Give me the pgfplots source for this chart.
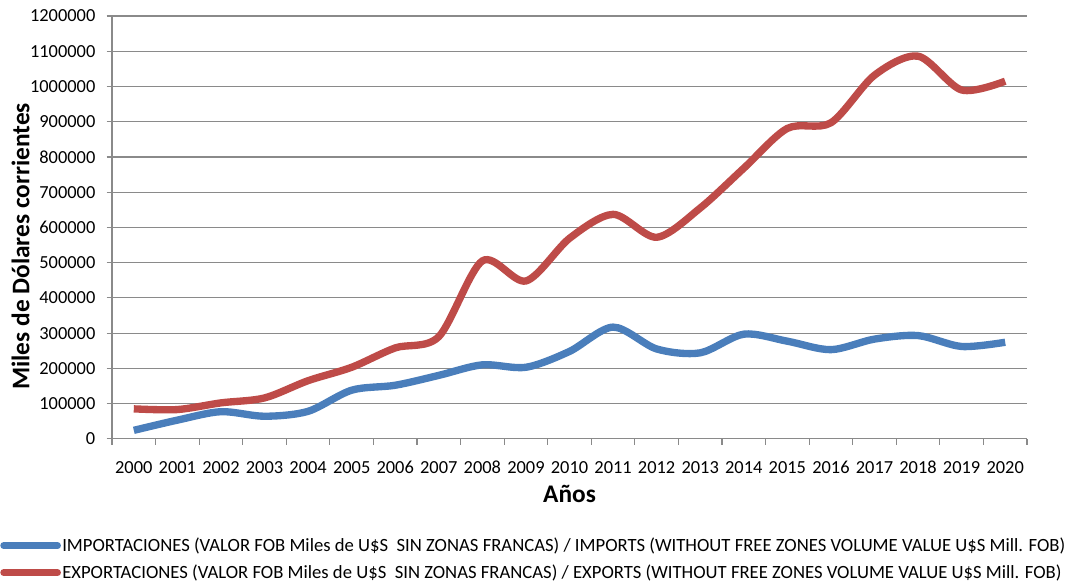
\documentclass[border=0pt]{standalone}
\usepackage{fontspec}
\setmainfont{Carlito}
\usepackage{pgfplots}
\pgfplotsset{compat=1.18}
\definecolor{impblue}{HTML}{4A7EBB}
\definecolor{expred}{HTML}{BE4B48}
\definecolor{gridgray}{HTML}{8A8A8A}

% values (miles de U$S)
\pgfplotstableread{
x  imp     exp
0  24000   85000
1  53000   83000
2  77000   102000
3  64000   116000
4  78000   165000
5  138000  203000
6  152000  258000
7  180000  290000
8  210000  505000
9  203000  448000
10 248000  569000
11 317000  637000
12 255000  572000
13 244000  655000
14 297000  768000
15 277000  881000
16 253000  897000
17 283000  1032000
18 293000  1086000
19 262000  990000
20 274000  1015000
}\datatable

\begin{document}
\begin{tikzpicture}
\begin{axis}[
  name=ax,
  width=686pt, height=317pt, scale only axis,
  xmin=-0.5, xmax=20.5, ymin=0, ymax=1200000,
  xtick={0,...,20},
  xticklabels={2000,2001,2002,2003,2004,2005,2006,2007,2008,2009,2010,2011,2012,2013,2014,2015,2016,2017,2018,2019,2020},
  minor xtick={-0.5,0.5,...,20.5},
  ytick={0,100000,200000,300000,400000,500000,600000,700000,800000,900000,1000000,1100000,1200000},
  scaled y ticks=false,
  yticklabel style={xshift=-5pt, /pgf/number format/fixed, /pgf/number format/precision=0,
    /pgf/number format/1000 sep={}, /pgf/number format/assume math mode=true},
  tick label style={font=\fontsize{13.8}{16}\selectfont},
  xticklabel style={anchor=base, yshift=-21.8pt},
  axis x line*=bottom, axis y line*=left,
  axis line style={gridgray, line width=0.9pt, -},
  major x tick style={draw=none},
  minor x tick style={gridgray, line width=0.9pt},
  major y tick style={gridgray, line width=0.9pt},
  tick align=outside,
  major tick length=4pt, minor tick length=4.5pt,
  ymajorgrids, major grid style={gridgray, line width=0.9pt},
  xlabel={Años},
  ylabel={Miles de Dólares corrientes},
  label style={font=\bfseries\fontsize{19}{22}\selectfont},
  xlabel style={at={(axis description cs:0.5,-0.13)}, anchor=center},
  ylabel style={at={(axis description cs:-0.1,0.455)}, anchor=center},
  legend cell align=left,
  legend style={at={(axis description cs:0,0)}, anchor=north west,
    xshift=-84pt, yshift=-72pt, draw=none, fill=none, inner sep=0pt,
    row sep=4.5pt, font=\fontsize{14}{16}\selectfont,
    nodes={inner xsep=1pt}},
  legend image code/.code={\draw[#1, line width=5pt, line cap=round] (2.5pt,0pt) -- (43pt,0pt);},
]
\addplot[impblue, line width=5.5pt, smooth, tension=0.5] table[x=x, y=imp] {\datatable};
\addlegendentry{IMPORTACIONES (VALOR FOB Miles de U\$S\ \ SIN ZONAS FRANCAS) / IMPORTS (WITHOUT FREE ZONES VOLUME VALUE U\$S Mill. FOB)}
\addplot[expred, line width=5.5pt, smooth, tension=0.5] table[x=x, y=exp] {\datatable};
\addlegendentry{EXPORTACIONES (VALOR FOB Miles de U\$S\ \ SIN ZONAS FRANCAS) / EXPORTS (WITHOUT FREE ZONES VOLUME VALUE U\$S Mill. FOB)}
\end{axis}
\pgfresetboundingbox
\path ([shift={(-84pt,-107.25pt)}]ax.south west) rectangle ([shift={(35.25pt,12pt)}]ax.north east);
\end{tikzpicture}
\end{document}
